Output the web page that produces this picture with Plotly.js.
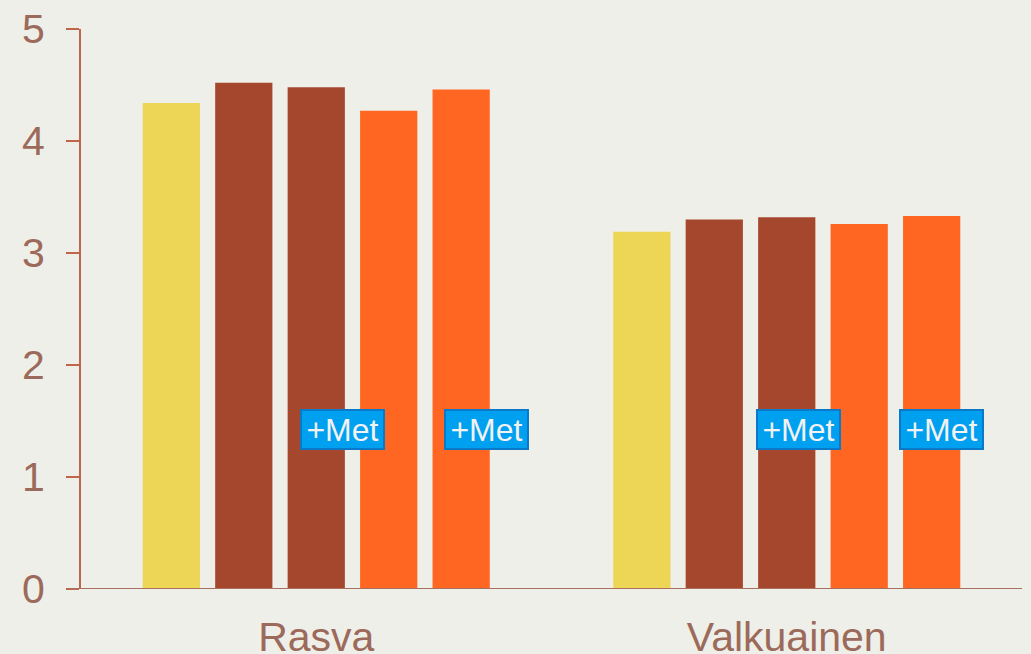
<!DOCTYPE html>
<html><head><meta charset="utf-8">
<script src="https://cdn.plot.ly/plotly-3.0.1.min.js"></script>
<style>html,body{margin:0;padding:0;background:#EFEFE9;}#chart{width:1031px;height:654px;}</style>
</head><body><div id="chart"></div>
<script>
const categories = ["Rasva", "Valkuainen"];
const series1 = [4.34, 3.19];
const series2 = [4.52, 3.30];
const series3 = [4.48, 3.32];
const series4 = [4.27, 3.26];
const series5 = [4.46, 3.33];
const seriesValues = [series1, series2, series3, series4, series5];
const seriesColors = ["#EDD655", "#A5472D", "#A5472D", "#FF6622", "#FF6622"];
const labelText = "+Met";
const labelX = [0.2784, 0.4304, 0.762, 0.914];
const labelY = 1.42;
const yTicks = [0, 1, 2, 3, 4, 5];

const traces = seriesValues.map((vals, i) => ({
  type: "bar", x: categories, y: vals,
  marker: {color: seriesColors[i], line: {width: 0}},
  hoverinfo: "x+y"
}));

const annotations = labelX.map(px => ({
  xref: "paper", yref: "y", x: px, y: labelY,
  text: labelText, showarrow: false,
  font: {family: "Liberation Sans, Arial, sans-serif", size: 32, color: "#F2F2F2"},
  bgcolor: "#00A0F0", bordercolor: "#0B78C8", borderwidth: 2,
  width: 79, height: 35, xanchor: "center", yanchor: "middle"
}));

const layout = {
  width: 1031, height: 654,
  paper_bgcolor: "#EFEFE9", plot_bgcolor: "#EFEFE9",
  margin: {l: 81, r: 9, t: 29, b: 65},
  showlegend: false,
  barmode: "group", bargap: 0.23, bargroupgap: 0.21,
  font: {family: "Liberation Sans, Arial, sans-serif", color: "#9C6A5A"},
  xaxis: {
    showgrid: false, zeroline: false, showline: false, ticks: "",
    tickfont: {size: 41, color: "#9C6A5A"}, ticklabelstandoff: 20
  },
  yaxis: {
    range: [0, 5], tickvals: yTicks, ticktext: yTicks.map(String),
    showgrid: false, zeroline: false, showline: true, linecolor: "#C0654A", linewidth: 2,
    ticks: "outside", ticklen: 13, tickwidth: 2, tickcolor: "#C0654A",
    tickfont: {size: 41, color: "#9C6A5A"}, ticklabelstandoff: 13
  },
  shapes: [{type: "line", xref: "paper", yref: "y", x0: -0.0138, x1: 1, y0: 0, y1: 0,
    line: {color: "#A87060", width: 2}}],
  annotations: annotations
};

Plotly.newPlot("chart", traces, layout, {displayModeBar: false, staticPlot: true});
</script></body></html>
